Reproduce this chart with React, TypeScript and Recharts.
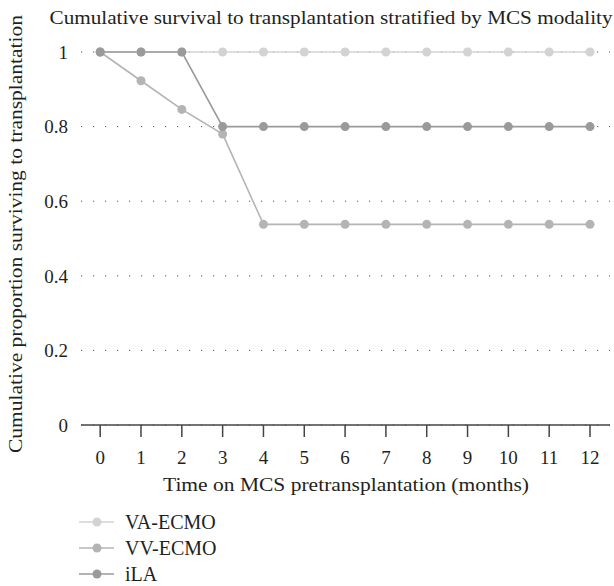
import { LineChart, Line, XAxis, YAxis, CartesianGrid } from 'recharts'

const months = [0, 1, 2, 3, 4, 5, 6, 7, 8, 9, 10, 11, 12]
const vaEcmo = [1, 1, 1, 1, 1, 1, 1, 1, 1, 1, 1, 1, 1]
const vvEcmo = [1, 0.923, 0.846, 0.78, 0.538, 0.538, 0.538, 0.538, 0.538, 0.538, 0.538, 0.538, 0.538]
const ila = [1, 1, 1, 0.8, 0.8, 0.8, 0.8, 0.8, 0.8, 0.8, 0.8, 0.8, 0.8]
const yTicks = [0, 0.2, 0.4, 0.6, 0.8, 1]

const SERIES = [
  { key: 'va', name: 'VA-ECMO', color: '#d3d3d3' },
  { key: 'vv', name: 'VV-ECMO', color: '#b4b4b6' },
  { key: 'ila', name: 'iLA', color: '#9a9a9a' },
]

const FONT = "'Liberation Serif', 'DejaVu Serif', serif"
const INK = '#231f20'

const data = months.map((m, i) => ({ month: m, va: vaEcmo[i], vv: vvEcmo[i], ila: ila[i] }))

export default function App() {
  return (
    <div style={{ position: 'absolute', left: 0, top: 0, width: 614, height: 586, fontFamily: FONT }}>
      <LineChart width={614} height={586} data={data} margin={{ top: 52, right: 4, bottom: 131, left: 0 }}>
        <CartesianGrid horizontal vertical={false} stroke="#555" strokeDasharray="1.2 10.8" />
        <XAxis
          dataKey="month"
          type="number"
          domain={[-0.47, 12.49]}
          ticks={months}
          interval={0}
          stroke="#444"
          strokeWidth={1.5}
          tickLine={{ stroke: '#444', strokeWidth: 1.5 }}
          tickSize={12}
          tickMargin={14}
          tick={{ fontSize: 19, fill: INK, fontFamily: FONT }}
          height={30}
        />
        <YAxis
          type="number"
          domain={[0, 1]}
          ticks={yTicks}
          axisLine={false}
          tickLine={false}
          width={81}
          tickMargin={7}
          tick={{ fontSize: 19, fill: INK, fontFamily: FONT }}
        />
        {SERIES.map((s) => (
          <Line
            key={s.key}
            dataKey={s.key}
            name={s.name}
            stroke={s.color}
            strokeWidth={1.6}
            dot={{ r: 4.5, fill: s.color, stroke: 'none' }}
            isAnimationActive={false}
          />
        ))}
      </LineChart>
      <svg width={614} height={586} style={{ position: 'absolute', left: 0, top: 0, pointerEvents: 'none' }}>
        <g fontFamily={FONT} fill={INK} fontSize={19}>
          <text x={331} y={24} textAnchor="middle" textLength={563} lengthAdjust="spacingAndGlyphs">
            Cumulative survival to transplantation stratified by MCS modality
          </text>
          <text x={346} y={491} textAnchor="middle" textLength={366} lengthAdjust="spacingAndGlyphs">
            Time on MCS pretransplantation (months)
          </text>
          <text
            transform="translate(22, 234) rotate(-90)"
            textAnchor="middle"
            textLength={438}
            lengthAdjust="spacingAndGlyphs"
          >
            Cumulative proportion surviving to transplantation
          </text>
          {SERIES.map((s, i) => {
            const cy = 522 + i * 26
            return (
              <g key={s.key}>
                <line x1={79} y1={cy} x2={114} y2={cy} stroke={s.color} strokeWidth={1.6} />
                <circle cx={97} cy={cy} r={4.5} fill={s.color} />
                <text x={125} y={cy + 6.5} fontSize={20}>{s.name}</text>
              </g>
            )
          })}
        </g>
      </svg>
    </div>
  )
}
